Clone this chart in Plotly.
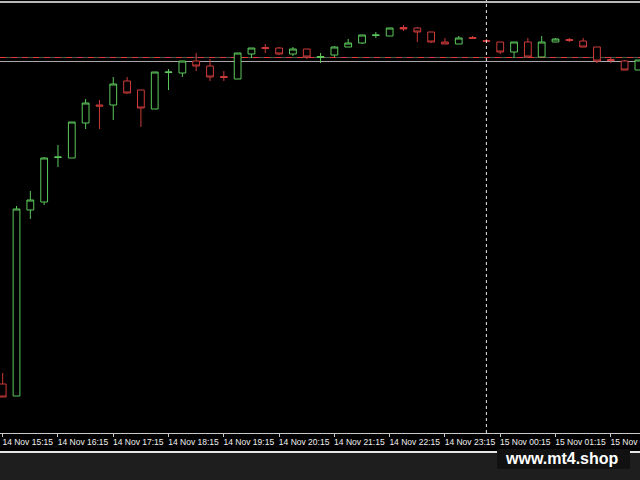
import pandas as pd
import plotly.graph_objects as go

# ---- data ----
start_time = "2023-11-14 15:15"
n_bars = 47
opens  = [1616, 1604, 1790, 1798, 1842.5, 1842, 1877, 1895, 1895, 1919, 1910, 1891, 1927.5, 1927, 1939, 1934,
          1923.5, 1921, 1946, 1952.5, 1952, 1946, 1951, 1942.5, 1945, 1953, 1957, 1964.5, 1964, 1972.5, 1972, 1968,
          1958, 1956, 1962.5, 1959.5, 1958, 1948, 1958, 1943, 1958, 1960.5, 1959, 1953, 1940.5, 1939, 1930]
highs  = [1627, 1794, 1809, 1843, 1855, 1878, 1901, 1900, 1923, 1923, 1910, 1928, 1931, 1939, 1947, 1941,
          1929, 1947, 1952, 1956, 1953, 1953, 1951, 1947, 1954, 1961, 1965, 1968, 1972, 1975, 1973, 1968,
          1962, 1964, 1964, 1961, 1958, 1958, 1962, 1964, 1962, 1962, 1962, 1953, 1943, 1940, 1940]
lows   = [1603, 1604, 1781, 1795, 1833, 1842, 1871, 1871, 1880, 1906, 1873, 1891, 1910, 1923, 1929, 1919,
          1919, 1921, 1942, 1947, 1945, 1944, 1941, 1937, 1943, 1953, 1956, 1962, 1964, 1969, 1958, 1957,
          1956, 1956, 1961, 1957, 1946, 1942, 1943, 1943, 1958, 1958, 1953, 1937, 1937, 1930, 1930]
closes = [1603, 1791, 1800, 1842, 1843, 1878, 1897, 1894, 1916, 1907, 1892, 1928, 1928, 1939, 1934, 1923,
          1922.5, 1947, 1952, 1951.5, 1946, 1951, 1943, 1943.5, 1953, 1957, 1965, 1965, 1972, 1971, 1968, 1958,
          1956, 1962, 1961.5, 1958.5, 1948, 1958, 1943, 1958, 1961, 1959.5, 1953, 1939, 1939.5, 1930, 1940]
tick_labels = ["14 Nov 15:15", "14 Nov 16:15", "14 Nov 17:15", "14 Nov 18:15", "14 Nov 19:15",
               "14 Nov 20:15", "14 Nov 21:15", "14 Nov 22:15", "14 Nov 23:15", "15 Nov 00:15",
               "15 Nov 01:15", "15 Nov 02:15"]
level_a = 1942.5   # red dashed level
level_b = 1938.5   # grey level
separator_time = "2023-11-15 00:00"

times = pd.date_range(start_time, periods=n_bars, freq="15min")
tick_times = pd.date_range(start_time, periods=len(tick_labels), freq="60min")

GREEN = "#5cc85c"
RED = "#cc3a3a"

fig = go.Figure(go.Candlestick(
    x=times, open=opens, high=highs, low=lows, close=closes,
    increasing=dict(line=dict(color=GREEN, width=1), fillcolor="black"),
    decreasing=dict(line=dict(color=RED, width=1), fillcolor="black"),
    whiskerwidth=0, hoverinfo="skip",
))

# layout geometry
W, H = 640, 480
AXIS_PX = 433
px_per_bar = 13.82
first_px = 2.7
t0 = times[0] - pd.Timedelta(minutes=15 * first_px / px_per_bar)
t1 = t0 + pd.Timedelta(minutes=15 * W / px_per_bar)
ymax = 2000
ymin = ymax - AXIS_PX

def py(p):  # pixel row -> paper y
    return (AXIS_PX - p) / AXIS_PX

shapes = [
    dict(type="line", xref="paper", yref="y", x0=0, x1=1, y0=level_a, y1=level_a,
         line=dict(color="#4a5a4a", width=1), layer="below"),
    dict(type="line", xref="paper", yref="y", x0=0, x1=1, y0=level_a, y1=level_a,
         line=dict(color="#e03a3a", width=1.2, dash="6px,5px"), layer="below"),
    dict(type="line", xref="paper", yref="y", x0=0, x1=1, y0=level_b, y1=level_b,
         line=dict(color="#a8a8a8", width=1), layer="below"),
    dict(type="line", xref="x", yref="paper", x0=separator_time, x1=separator_time, y0=0, y1=1,
         line=dict(color="#e8e8e8", width=1, dash="dot")),
    dict(type="line", xref="paper", yref="paper", x0=0, x1=1, y0=py(2), y1=py(2),
         line=dict(color="#b8b8b8", width=2)),
    dict(type="rect", xref="paper", yref="paper", x0=0, x1=1, y0=py(480), y1=py(453),
         fillcolor="#1e1e1e", line=dict(width=0), layer="below"),
    dict(type="line", xref="paper", yref="paper", x0=0, x1=1, y0=py(452), y1=py(452),
         line=dict(color="#e6e6e6", width=2)),
    dict(type="rect", xref="paper", yref="paper", x0=497 / W, x1=630 / W, y0=py(469), y1=py(449),
         fillcolor="#111111", line=dict(width=0)),
]

fig.update_layout(
    width=W, height=H,
    margin=dict(l=0, r=0, t=0, b=H - AXIS_PX, pad=0, autoexpand=False),
    paper_bgcolor="black", plot_bgcolor="black",
    showlegend=False, hovermode=False,
    shapes=shapes,
    annotations=[dict(text="<b>www.mt4.shop</b>", xref="paper", yref="paper",
                      x=562 / W, y=py(458), xanchor="center", yanchor="middle", showarrow=False,
                      font=dict(family="Liberation Sans", size=16, color="white"))],
    xaxis=dict(type="date", range=[t0, t1], rangeslider=dict(visible=False), automargin=False,
               showgrid=False, zeroline=False, showline=True, linecolor="#c8c8c8", linewidth=1,
               ticks="outside", ticklen=3, tickcolor="#c8c8c8",
               tickvals=tick_times, ticktext=tick_labels,
               tickfont=dict(family="Liberation Sans", size=8.5, color="#f0f0f0"),
               ticklabelshift=25, ticklabelstandoff=-2, ticklabeloverflow="allow", fixedrange=True),
    yaxis=dict(range=[ymin, ymax], showgrid=False, zeroline=False, showticklabels=False,
               showline=False, fixedrange=True, automargin=False),
)

fig.write_html("out.html", config={"displayModeBar": False},
               post_script="document.body.style.margin='0';document.body.style.background='black';")
